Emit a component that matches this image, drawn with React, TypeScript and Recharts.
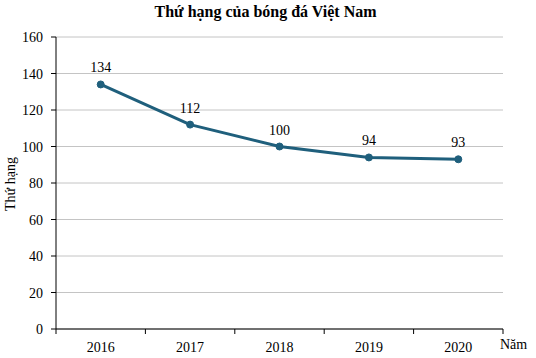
import React from "react";
import { LineChart, Line, XAxis, YAxis, CartesianGrid, LabelList } from "recharts";

const years = ["2016", "2017", "2018", "2019", "2020"];
const ranks = [134, 112, 100, 94, 93];
const yTicks = [0, 20, 40, 60, 80, 100, 120, 140, 160];
const xTicks = [-0.5, 0, 0.5, 1, 1.5, 2, 2.5, 3, 3.5, 4, 4.5];

const data = years.map((y, i) => ({ idx: i, year: y, rank: ranks[i] }));

const FONT = "'Liberation Serif', 'Times New Roman', serif";
const COLOR = "#1f5f7c";

const XTick = (props: any) => {
  const { x, y, payload } = props;
  const v = payload.value as number;
  if (Number.isInteger(v)) {
    return (
      <text x={x} y={y} dy={18} textAnchor="middle" fontFamily="Liberation Serif" fontSize={14} fill="#000">
        {years[v]}
      </text>
    );
  }
  return <line x1={x} x2={x} y1={y - 5} y2={y} stroke="#000" strokeWidth={1} />;
};

const YTick = (props: any) => {
  const { x, y, payload } = props;
  return (
    <text x={x} y={y} dy={5} textAnchor="end" fontFamily="Liberation Serif" fontSize={14} fill="#000">
      {payload.value}
    </text>
  );
};

export default function App() {
  return (
    <div style={{ position: "absolute", left: 0, top: 0, width: 536, height: 358, background: "#fff", fontFamily: FONT }}>
      <div
        style={{
          position: "absolute",
          left: 0,
          top: 3,
          width: 531,
          textAlign: "center",
          fontFamily: FONT,
          fontWeight: "bold",
          fontSize: 16,
          color: "#000",
        }}
      >
        Thứ hạng của bóng đá Việt Nam
      </div>
      <div
        style={{
          position: "absolute",
          left: 11,
          top: 184,
          transform: "translate(-50%, -50%) rotate(-90deg)",
          whiteSpace: "nowrap",
          fontFamily: FONT,
          fontSize: 14,
          color: "#000",
        }}
      >
        Thứ hạng
      </div>
      <div
        style={{
          position: "absolute",
          left: 500,
          top: 337,
          fontFamily: FONT,
          fontSize: 14,
          color: "#000",
        }}
      >
        Năm
      </div>
      <LineChart
        width={536}
        height={358}
        data={data}
        margin={{ top: 37, right: 33, bottom: 0, left: 0 }}
        style={{ fontFamily: FONT }}
      >
        <CartesianGrid vertical={false} stroke="#c4c4c4" />
        <XAxis
          dataKey="idx"
          type="number"
          domain={[-0.5, 4.5]}
          ticks={xTicks}
          interval={0}
          tickLine={false}
          tickSize={5}
          tickMargin={0}
          axisLine={{ stroke: "#000" }}
          tick={<XTick />}
          height={29}
        />
        <YAxis
          domain={[0, 160]}
          ticks={yTicks}
          interval={0}
          width={56}
          tickSize={5}
          tickMargin={8}
          tickLine={{ stroke: "#000" }}
          axisLine={{ stroke: "#000" }}
          tick={<YTick />}
        />
        <Line
          type="linear"
          dataKey="rank"
          stroke={COLOR}
          strokeWidth={3}
          strokeLinejoin="round"
          dot={{ r: 3.5, fill: COLOR, stroke: COLOR, strokeWidth: 1 }}
          isAnimationActive={false}
        >
          <LabelList
            dataKey="rank"
            content={(p: any) => (
              <text x={p.x + (p.width || 0) / 2} y={p.y - 12} textAnchor="middle" fontFamily="Liberation Serif" fontSize={14} fill="#000">
                {p.value}
              </text>
            )}
          />
        </Line>
      </LineChart>
    </div>
  );
}
